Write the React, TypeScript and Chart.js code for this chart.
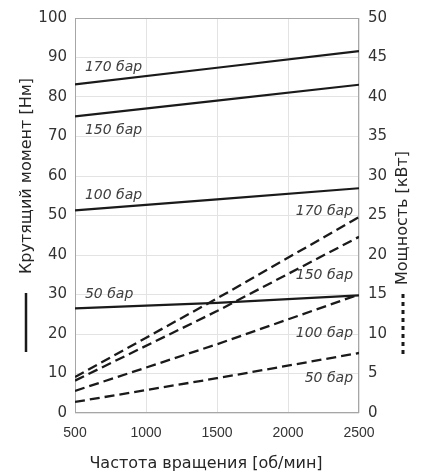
import React, { useEffect, useRef } from "react";
import { Chart, registerables } from "chart.js";

Chart.register(...registerables);

// ---- data ----
const rpm = [500, 1500, 2500];
const pressureLabels = ["170 бар", "150 бар", "100 бар", "50 бар"];
const torque170 = [83.2, 87.4, 91.6];
const torque150 = [75.1, 79.1, 83.1];
const torque100 = [51.3, 54.1, 56.9];
const torque50 = [26.5, 27.9, 29.8];
const power170 = [4.55, 14.5, 24.8];
const power150 = [4.1, 12.9, 22.3];
const power100 = [2.8, 8.7, 15.0];
const power50 = [1.4, 4.4, 7.6];

const xTitle = "Частота вращения [об/мин]";
const yLeftTitle = "Крутящий момент [Нм]";
const yRightTitle = "Мощность [кВт]";

// label anchors (data units)
const torqueLabelX = 570;
const torqueLabelY = [86.7, 70.7, 54.1, 29.1];
const powerLabelX = 2458;
const powerLabelY = [25.1, 16.9, 9.65, 3.9];

const torqueSeries = [torque170, torque150, torque100, torque50];
const powerSeries = [power170, power150, power100, power50];

const FONT = "'DejaVu Sans', Verdana, sans-serif";

const decorPlugin = {
  id: "decor",
  beforeDatasetsDraw(chart: any) {
    const { ctx, chartArea } = chart;
    ctx.save();
    ctx.strokeStyle = "#a6a6a6";
    ctx.lineWidth = 1;
    ctx.strokeRect(chartArea.left + 0.5, chartArea.top + 0.5, chartArea.right - chartArea.left - 1, chartArea.bottom - chartArea.top - 1);
    ctx.restore();
  },
  afterDraw(chart: any) {
    const { ctx, chartArea, scales } = chart;
    ctx.save();
    // pressure labels
    ctx.font = `italic 14px ${FONT}`;
    ctx.fillStyle = "#404040";
    ctx.textBaseline = "alphabetic";
    ctx.textAlign = "left";
    pressureLabels.forEach((t, i) => {
      ctx.fillText(t, scales.x.getPixelForValue(torqueLabelX), scales.y.getPixelForValue(torqueLabelY[i]));
    });
    ctx.textAlign = "right";
    pressureLabels.forEach((t, i) => {
      ctx.fillText(t, scales.x.getPixelForValue(powerLabelX), scales.y1.getPixelForValue(powerLabelY[i]));
    });

    // x title
    ctx.font = `16px ${FONT}`;
    ctx.fillStyle = "#262626";
    ctx.textAlign = "center";
    ctx.textBaseline = "middle";
    ctx.fillText(xTitle, (chartArea.left + chartArea.right) / 2 - 11, chartArea.bottom + 51);

    // left title
    ctx.save();
    ctx.translate(27, chartArea.top + 158);
    ctx.rotate(-Math.PI / 2);
    ctx.fillText(yLeftTitle, 0, 0);
    ctx.restore();
    ctx.strokeStyle = "#1a1a1a";
    ctx.lineWidth = 2.5;
    ctx.beginPath();
    ctx.moveTo(26, chartArea.top + 275);
    ctx.lineTo(26, chartArea.top + 334);
    ctx.stroke();

    // right title
    ctx.save();
    ctx.translate(403, chartArea.top + 200);
    ctx.rotate(-Math.PI / 2);
    ctx.fillText(yRightTitle, 0, 0);
    ctx.restore();
    ctx.lineWidth = 3;
    ctx.setLineDash([4, 4]);
    ctx.beginPath();
    ctx.moveTo(403, chartArea.top + 276);
    ctx.lineTo(403, chartArea.top + 336);
    ctx.stroke();
    ctx.restore();
  },
};

export default function App() {
  const ref = useRef<HTMLCanvasElement>(null);
  useEffect(() => {
    document.body.style.margin = "0";
    const datasets: any[] = [];
    torqueSeries.forEach((s, i) =>
      datasets.push({
        label: "Крутящий момент " + pressureLabels[i],
        data: rpm.map((x, j) => ({ x, y: s[j] })),
        yAxisID: "y",
        borderColor: "#1a1a1a",
        borderWidth: 2.2,
        pointRadius: 0,
        tension: 0,
      })
    );
    powerSeries.forEach((s, i) =>
      datasets.push({
        label: "Мощность " + pressureLabels[i],
        data: rpm.map((x, j) => ({ x, y: s[j] })),
        yAxisID: "y1",
        borderColor: "#1a1a1a",
        borderWidth: 2.3,
        borderDash: [10, 5],
        pointRadius: 0,
        tension: 0,
      })
    );
    const chart = new Chart(ref.current as HTMLCanvasElement, {
      type: "line",
      data: { datasets },
      plugins: [decorPlugin],
      options: {
        animation: false,
        responsive: false,
        layout: { padding: { top: 14, left: 0, right: 0, bottom: 0 } },
        plugins: { legend: { display: false }, tooltip: { enabled: false } },
        scales: {
          x: {
            type: "linear",
            min: 500,
            max: 2500,
            ticks: {
              stepSize: 500,
              padding: 12,
              color: "#333",
              font: { family: "'Liberation Sans', Arial", size: 14 },
              callback: (v: any) => String(v),
            },
            grid: { color: "#e3e3e3", drawTicks: false },
            border: { display: false },
            afterFit: (s: any) => { s.height = 61; },
          },
          y: {
            position: "left",
            min: 0,
            max: 100,
            ticks: { stepSize: 10, padding: 8, color: "#333", font: { family: FONT, size: 15 } },
            grid: { color: "#e3e3e3", drawTicks: false },
            border: { display: false },
            afterFit: (s: any) => { s.width = 75; },
          },
          y1: {
            position: "right",
            min: 0,
            max: 50,
            ticks: { stepSize: 5, padding: 9, color: "#333", font: { family: FONT, size: 15 } },
            grid: { drawOnChartArea: false, drawTicks: false },
            border: { display: false },
            afterFit: (s: any) => { s.width = 68; },
          },
        },
      },
    } as any);
    return () => chart.destroy();
  }, []);
  return (
    <div style={{ width: 427, height: 474, background: "#fff" }}>
      <canvas ref={ref} width={427} height={474} />
    </div>
  );
}
